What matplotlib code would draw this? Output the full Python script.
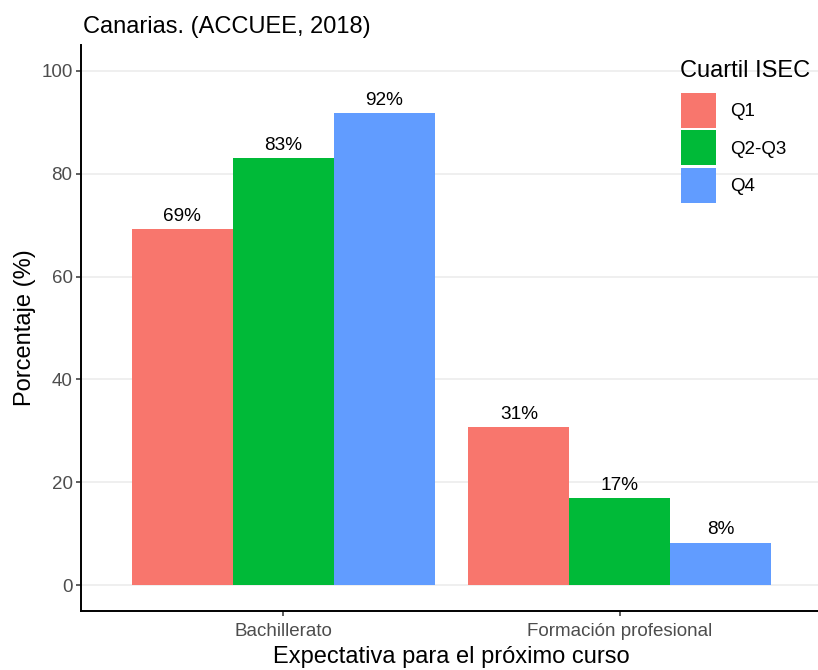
import numpy as np
import matplotlib
matplotlib.use('Agg')
import matplotlib.pyplot as plt
from matplotlib.patches import Patch

# font like the ggplot default (Helvetica/Arial)
plt.rcParams['font.family'] = ['Liberation Sans', 'DejaVu Sans']

# data
categories = ['Bachillerato', 'Formación profesional']
groups = ['Q1', 'Q2-Q3', 'Q4']
q1_values = [69.3, 30.7]
q2q3_values = [83.1, 16.9]
q4_values = [91.7, 8.3]
y_ticks = [0, 20, 40, 60, 80, 100]

colors = ['#F8766D', '#00BA38', '#619CFF']
series = [q1_values, q2q3_values, q4_values]

W, H = 818, 670
fig = plt.figure(figsize=(W / 100, H / 100), dpi=100)

# axes in pixel units (the panel runs past the right edge, as in the reference)
left, right, top, bottom = 81, 822, 45, 611
ax = fig.add_axes([left / W, 1 - bottom / H, (right - left) / W, (bottom - top) / H])

x = np.arange(1, len(categories) + 1)
bar_w = 0.3
for i, (vals, col) in enumerate(zip(series, colors)):
    pos = x + (i - 1) * bar_w
    bars = ax.bar(pos, vals, width=bar_w, color=col, linewidth=0, zorder=2)
    ax.bar_label(bars, labels=['{:.0f}%'.format(v) for v in vals],
                 padding=3, fontsize=13.7, color='black')

ax.set_xlim(0.4, 2.6)
ax.set_ylim(-5, 105)
ax.set_xticks(x)
ax.set_xticklabels(categories)
ax.set_yticks(y_ticks)

# gridlines on y only
ax.yaxis.grid(True, color='#EBEBEB', linewidth=1.1, zorder=0)
ax.set_axisbelow(True)

for s in ['top', 'right']:
    ax.spines[s].set_visible(False)
for s in ['left', 'bottom']:
    ax.spines[s].set_linewidth(1.4)
    ax.spines[s].set_color('black')

ax.tick_params(axis='both', length=3.6, width=1.1, color='#333333',
               labelcolor='#4D4D4D', labelsize=13.5, pad=2.5)
ax.tick_params(axis='x', pad=5)

ax.set_xlabel('Expectativa para el próximo curso', fontsize=17, labelpad=4)
ax.set_ylabel('Porcentaje (%)', fontsize=17, labelpad=4)
fig.text(83 / W, 1 - 33 / H, 'Canarias. (ACCUEE, 2018)', fontsize=17,
         ha='left', va='baseline')

# legend (title drawn as separate text to get the ggplot spacing)
fig.text(680 / W, 1 - 77 / H, 'Cuartil ISEC', fontsize=17,
         ha='left', va='baseline')
handles = [Patch(facecolor=c, edgecolor='none', label=g) for c, g in zip(colors, groups)]
leg = ax.legend(handles=handles, frameon=False,
                loc='upper left', bbox_to_anchor=(681 / W, 1 - 93 / H),
                bbox_transform=fig.transFigure, fontsize=13.5,
                handlelength=1.87, handleheight=2.495,
                labelspacing=0.13, handletextpad=0.75, borderpad=0,
                borderaxespad=0)

fig.savefig('out.png', dpi=100)
